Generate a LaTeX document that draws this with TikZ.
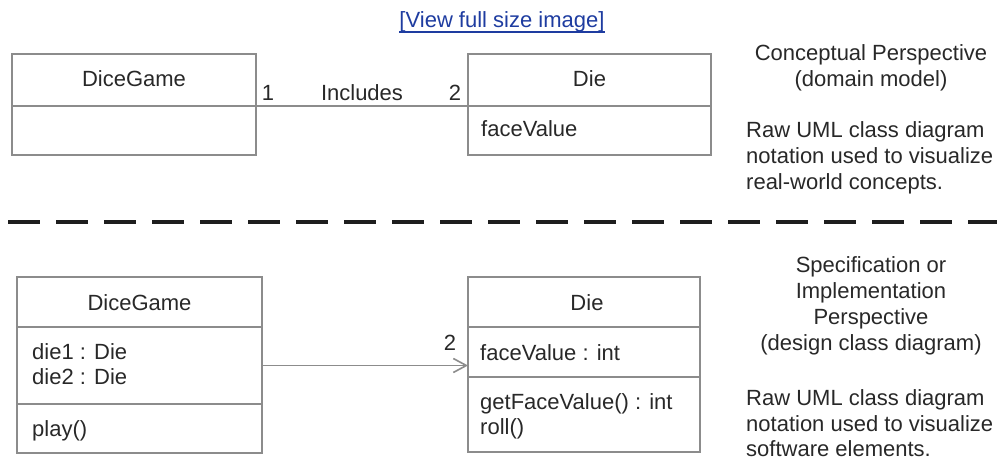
\documentclass[tikz,border=0pt]{standalone}
\usepackage{fontspec}
\setmainfont{Liberation Sans}
\usetikzlibrary{arrows.meta}
\definecolor{boxgray}{RGB}{140,140,140}
\definecolor{txt}{RGB}{40,40,40}
\definecolor{linkblue}{RGB}{30,60,160}
\definecolor{sepcol}{RGB}{30,30,30}
\begin{document}
\begin{tikzpicture}[x=1pt,y=-1pt,
  comp/.style={draw=boxgray, line width=1.6pt, inner sep=0pt, outer sep=0pt},
  lbl/.style={inner sep=0pt, text=txt, font=\fontsize{22}{26}\selectfont},
  assoc/.style={draw=boxgray, line width=1.6pt},
  sepline/.style={draw=sepcol, line width=3.5pt, dash pattern=on 32pt off 16pt}]
\useasboundingbox (0,0) rectangle (997,460);

% link
\node[lbl, text=linkblue, anchor=base] (link) at (502,28) {[View full size image]};
\draw[linkblue, line width=1.4pt] ([yshift=-4pt]link.base west) -- ([yshift=-4pt]link.base east);

% ---- top: conceptual ----
\node[comp, minimum width=244pt, minimum height=52pt] (dgAh) at (134,80) {};
\node[comp, minimum width=244pt, minimum height=49pt] (dgAa) at (134,130.5) {};
\node[comp, minimum width=243pt, minimum height=52pt] (dieAh) at (589.5,80) {};
\node[comp, minimum width=243pt, minimum height=49pt] (dieAa) at (589.5,130.5) {};

\node[lbl, anchor=base] (dgAname) at (134,87) {DiceGame};
\node[lbl, anchor=base] (dieAname) at (589.5,87) {Die};
\node[lbl, anchor=base west] (dieAfv) at (481,136) {faceValue};

\draw[assoc] (dgAh.south east) -- (dieAh.south west);
\node[lbl, anchor=base] (mA1) at (268,100) {1};
\node[lbl, anchor=base] (inc) at (362,100) {Includes};
\node[lbl, anchor=base] (mA2) at (455,100) {2};

\node[lbl, anchor=base] (cp1) at (871,61) {Conceptual Perspective};
\node[lbl, anchor=base] (cp2) at (871,86.5) {(domain model)};
\node[lbl, anchor=base west] (cr1) at (746,138) {Raw UML class diagram};
\node[lbl, anchor=base west] (cr2) at (746,163.5) {notation used to visualize};
\node[lbl, anchor=base west] (cr3) at (746,189) {real-world concepts.};

% separator
\draw[sepline] (8,222) -- (997,222);

% ---- bottom: design ----
\node[comp, minimum width=245pt, minimum height=50pt] (dgBh) at (139.5,302) {};
\node[comp, minimum width=245pt, minimum height=77pt] (dgBa) at (139.5,365.5) {};
\node[comp, minimum width=245pt, minimum height=49pt] (dgBo) at (139.5,428.5) {};
\node[comp, minimum width=232pt, minimum height=50pt] (dieBh) at (584,302) {};
\node[comp, minimum width=232pt, minimum height=50pt] (dieBa) at (584,352) {};
\node[comp, minimum width=232pt, minimum height=75pt] (dieBo) at (584,414.5) {};

\node[lbl, anchor=base] (dgBname) at (139.5,310) {DiceGame};
\node[lbl, anchor=base west] (d1) at (32,359) {die1 : Die};
\node[lbl, anchor=base west] (d2) at (32,384) {die2 : Die};
\node[lbl, anchor=base west] (pl) at (32,436) {play()};

\node[lbl, anchor=base] (dieBname) at (587,310) {Die};
\node[lbl, anchor=base west] (fvi) at (480,360) {faceValue : int};
\node[lbl, anchor=base west] (gfv) at (480,409) {getFaceValue() : int};
\node[lbl, anchor=base west] (rl) at (480,434) {roll()};

\draw[assoc, -{Straight Barb[length=13pt,width=14pt]}] (dgBa.east) -- (dgBa.east -| dieBa.west);
\node[lbl, anchor=base] (mB2) at (450,350) {2};

\node[lbl, anchor=base] (sp1) at (871,272) {Specification or};
\node[lbl, anchor=base] (sp2) at (871,298) {Implementation};
\node[lbl, anchor=base] (sp3) at (871,324) {Perspective};
\node[lbl, anchor=base] (sp4) at (871,350) {(design class diagram)};
\node[lbl, anchor=base west] (sr1) at (746,405) {Raw UML class diagram};
\node[lbl, anchor=base west] (sr2) at (746,431) {notation used to visualize};
\node[lbl, anchor=base west] (sr3) at (746,456) {software elements.};
\end{tikzpicture}
\end{document}
